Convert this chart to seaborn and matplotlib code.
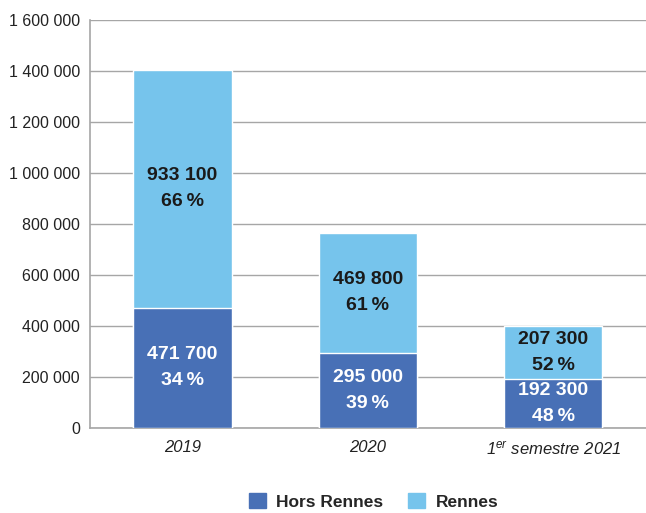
import matplotlib
matplotlib.use("Agg")
import matplotlib.pyplot as plt
import matplotlib.ticker as mticker
from matplotlib.patches import Patch
import seaborn as sns
import pandas as pd

# donnees
periodes = ["2019", "2020", r"1$^{\mathit{er}}$ semestre 2021"]
hors_rennes = [471700, 295000, 192300]
rennes = [933100, 469800, 207300]
pct_hors = [34, 39, 48]
pct_rennes = [66, 61, 52]

c_hors = "#4870B6"
c_rennes = "#76C4EC"

sns.set_style("white")
plt.rcParams["font.family"] = ["Liberation Sans", "DejaVu Sans"]
plt.rcParams["mathtext.fontset"] = "custom"
plt.rcParams["mathtext.it"] = "Liberation Sans:italic"
plt.rcParams["mathtext.rm"] = "Liberation Sans"

df = pd.DataFrame({"periode": periodes, "hors": hors_rennes, "rennes": rennes})
df["total"] = df["hors"] + df["rennes"]

fig = plt.figure(figsize=(6.46, 5.13), dpi=100)
ax = fig.add_axes([0.139, 0.166, 0.861, 0.795])

# barres empilees : total en clair puis hors Rennes par dessus
sns.barplot(data=df, x="periode", y="total", color=c_rennes, width=0.53,
            saturation=1, ax=ax, zorder=3)
sns.barplot(data=df, x="periode", y="hors", color=c_hors, width=0.53,
            saturation=1, ax=ax, zorder=3)

ax.set_ylim(0, 1600000)
ax.yaxis.set_major_locator(mticker.MultipleLocator(200000))
ax.yaxis.set_major_formatter(mticker.FuncFormatter(lambda v, p: f"{int(v):,}".replace(",", " ")))
ax.grid(axis="y", color="#A6A6A6", linewidth=1, zorder=0)
ax.set_axisbelow(True)
ax.set_xlabel("")
ax.set_ylabel("")

for s in ["top", "right"]:
    ax.spines[s].set_visible(False)
for s in ["left", "bottom"]:
    ax.spines[s].set_color("#A6A6A6")
    ax.spines[s].set_linewidth(1.2)

ax.tick_params(axis="y", length=0, pad=7, labelsize=11.5, labelcolor="#222222")
ax.tick_params(axis="x", length=0, pad=9, labelsize=12, labelcolor="#222222")
for t in ax.get_xticklabels():
    t.set_fontstyle("italic")

# etiquettes dans les barres
lab_font = ["Liberation Sans", "DejaVu Sans"]
for i in range(len(periodes)):
    y1 = hors_rennes[i] / 2
    ax.text(i, y1, f"{hors_rennes[i]:,}".replace(",", " ") + f"\n{pct_hors[i]}\u2009%",
            ha="center", va="center", color="white", fontsize=14,
            fontweight="bold", family=lab_font, linespacing=1.7, zorder=4)
    y2 = hors_rennes[i] + rennes[i] / 2
    ax.text(i, y2, f"{rennes[i]:,}".replace(",", " ") + f"\n{pct_rennes[i]}\u2009%",
            ha="center", va="center", color="#1A1A1A", fontsize=14,
            fontweight="bold", family=lab_font, linespacing=1.7, zorder=4)

handles = [Patch(color=c_hors, label="Hors Rennes"), Patch(color=c_rennes, label="Rennes")]
leg = fig.legend(handles=handles, loc="center", bbox_to_anchor=(0.578, 0.023), ncol=2,
                 frameon=False, handlelength=1.0, handleheight=1.0, handletextpad=0.6,
                 columnspacing=1.4, prop={"family": lab_font, "weight": "bold", "size": 12.5})

fig.savefig("out.png", dpi=100)
